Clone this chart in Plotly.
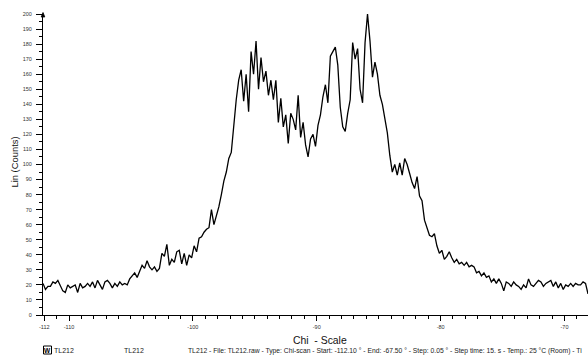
import plotly.graph_objects as go

# Chi-scan of sample TL212 (counts read every 0.2 degrees)
chi_start = -112.1
chi_step = 0.2
counts = [
    21, 17, 19, 19, 22, 21, 23, 20, 16, 15,
    20, 18, 19, 20, 15, 21, 18, 19, 21, 19,
    22, 18, 23, 20, 17, 22, 23, 21, 18, 21,
    19, 22, 20, 21, 20, 24, 26, 28, 25, 29,
    33, 31, 36, 32, 30, 32, 29, 31, 41, 39,
    47, 33, 37, 35, 42, 43, 34, 41, 33, 40,
    38, 46, 42, 51, 52, 55, 57, 58, 70, 60,
    66, 72, 80, 89, 95, 104, 108, 127, 143, 156,
    163, 142, 160, 135, 175, 160, 182, 150, 171, 155,
    162, 146, 156, 143, 156, 128, 144, 125, 133, 114,
    134, 130, 123, 146, 118, 128, 113, 105, 117, 120,
    112, 126, 133, 145, 153, 141, 172, 175, 178, 166,
    138, 125, 122, 134, 143, 181, 170, 177, 150, 141,
    181, 200, 182, 158, 168, 160, 146, 140, 131, 121,
    106, 95, 100, 93, 101, 93, 104, 100, 94, 88,
    84, 92, 79, 76, 63, 58, 53, 52, 54, 46,
    41, 43, 37, 39, 42, 38, 35, 37, 34, 35,
    33, 35, 32, 33, 32, 28, 29, 26, 28, 25,
    26, 22, 24, 21, 24, 21, 16, 22, 21, 19,
    22, 20, 19, 17, 20, 18, 24, 20, 19, 21,
    23, 22, 19, 21, 22, 23, 19, 22, 18, 21,
    17, 20, 19, 21, 19, 21, 20, 20, 22, 21,
    14,
]
chi = [chi_start + chi_step * i for i in range(len(counts))]

x_tick_vals = [-112, -110, -100, -90, -80, -70]
x_tick_text = ["-112", "-110", "-100", "-90", "-80", "-70"]
y_tick_vals = list(range(0, 201, 10))

sample_name = "TL212"
scan_info = ("TL212 - File: TL212.raw - Type: Chi-scan - Start: -112.10 \u00b0 - "
             "End: -67.50 \u00b0 - Step: 0.05 \u00b0 - Step time: 15. s - "
             "Temp.: 25 \u00b0C (Room) - Ti")

FONT = "Liberation Sans, Arial, sans-serif"

# plot area in pixels: x 43..588, y 14..315
PX_L, PX_R, PX_T, PX_B = 43, 588, 14, 315


def px(xp):
    return (xp - PX_L) / (PX_R - PX_L)


def py(yp):
    return (PX_B - yp) / (PX_B - PX_T)


fig = go.Figure()
fig.add_trace(go.Scatter(
    x=chi, y=counts, mode="lines",
    line=dict(color="black", width=1.3),
    showlegend=False, hoverinfo="skip",
))

fig.update_layout(
    width=588, height=355, autosize=False,
    margin=dict(l=PX_L, r=588 - PX_R, t=PX_T, b=355 - PX_B),
    paper_bgcolor="white", plot_bgcolor="white",
    font=dict(family=FONT, color="#222"),
    xaxis=dict(
        range=[-112.1, -68.1], showgrid=False, zeroline=False,
        showline=True, linecolor="black", linewidth=1,
        tickmode="array", tickvals=x_tick_vals, ticktext=x_tick_text,
        ticks="outside", ticklen=5, tickwidth=1, tickcolor="black",
        tickfont=dict(size=5.5, family=FONT, color="#333"),
        ticklabelstandoff=1,
        minor=dict(dtick=1, tick0=0, ticks="outside", ticklen=3,
                   tickwidth=1, tickcolor="black", showgrid=False),
    ),
    yaxis=dict(
        range=[0, 200], showgrid=False, zeroline=False,
        showline=True, linecolor="black", linewidth=1,
        tickmode="array", tickvals=y_tick_vals,
        ticks="outside", ticklen=6, tickwidth=1, tickcolor="black",
        tickfont=dict(size=5.5, family=FONT, color="#333"),
        ticklabelstandoff=3,
        minor=dict(dtick=5, tick0=0, ticks="outside", ticklen=3,
                   tickwidth=1, tickcolor="black", showgrid=False),
    ),
)

# small arrow head on top of the intensity axis
fig.add_shape(type="path", xref="paper", yref="paper",
              path=f"M {px(41.2)} {py(17)} L {px(43)} {py(12.5)} L {px(44.8)} {py(17)} Z",
              line=dict(color="black", width=0.8), fillcolor="black")

# axis titles
fig.add_annotation(text="Lin (Counts)", textangle=-90,
                   xref="paper", yref="paper", x=px(14), y=py(162.5),
                   xanchor="center", yanchor="middle", showarrow=False,
                   font=dict(size=9.4, family=FONT, color="#111"))
fig.add_annotation(text="Chi\u00a0 - Scale",
                   xref="paper", yref="paper", x=px(320), y=py(340),
                   xanchor="center", yanchor="middle", showarrow=False,
                   font=dict(size=10.4, family=FONT, color="#111"))

# footer: sample legend and scan parameters
FOOT_Y = 350.5
fig.add_shape(type="rect", xref="paper", yref="paper",
              x0=px(43.5), x1=px(51.5), y0=py(354), y1=py(346),
              line=dict(color="black", width=1), fillcolor="white")
fig.add_annotation(text="<b>W</b>", xref="paper", yref="paper",
                   x=px(47.5), y=py(350.2), xanchor="center", yanchor="middle",
                   showarrow=False, font=dict(size=6.5, family=FONT, color="black"))
fig.add_annotation(text=sample_name, xref="paper", yref="paper",
                   x=px(51.5), y=py(FOOT_Y), xanchor="left", yanchor="middle",
                   showarrow=False, font=dict(size=7, family=FONT, color="#222"))
fig.add_annotation(text=sample_name, xref="paper", yref="paper",
                   x=px(122), y=py(FOOT_Y), xanchor="left", yanchor="middle",
                   showarrow=False, font=dict(size=7, family=FONT, color="#222"))
fig.add_annotation(text=scan_info, xref="paper", yref="paper",
                   x=px(186), y=py(FOOT_Y), xanchor="left", yanchor="middle",
                   showarrow=False, font=dict(size=6.75, family=FONT, color="#222"))

fig.write_html("out.html")
